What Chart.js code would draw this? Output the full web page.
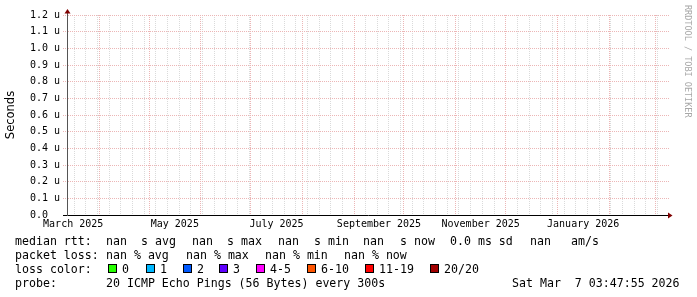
<!DOCTYPE html>
<html>
<head>
<meta charset="utf-8">
<script src="https://cdn.jsdelivr.net/npm/chart.js@4.4.1/dist/chart.umd.min.js"></script>
<style>
  body { margin: 0; background: #fff; }
  #wrap { position: relative; width: 697px; height: 297px; overflow: hidden; background: #fff; }
  #c { position: absolute; left: 0; top: 0; }
  .t { position: absolute; font-family: 'DejaVu Sans Mono', monospace; font-size: 11.6px; line-height: 14px; white-space: pre; color: #000; }
  .box { position: absolute; width: 9px; height: 9px; box-sizing: border-box; border: 1px solid #000; }
  #mark { position: absolute; left: 683px; top: 5px; font-family: 'DejaVu Sans Mono', monospace; font-size: 8.5px; line-height: 9px; color: #a8a8a8; writing-mode: vertical-rl; white-space: pre; }
</style>
</head>
<body>
<div id="wrap">
  <canvas id="c" width="697" height="297"></canvas>
  <div id="mark">RRDTOOL / TOBI OETIKER</div>
  <div id="legend"></div>
</div>
<script>
// values (days counted from 2025-01-01)
const yTickValues = [0, 0.1, 0.2, 0.3, 0.4, 0.5, 0.6, 0.7, 0.8, 0.9, 1.0, 1.1, 1.2];
const yTickLabels = ['0.0  ', '0.1 u', '0.2 u', '0.3 u', '0.4 u', '0.5 u', '0.6 u',
                     '0.7 u', '0.8 u', '0.9 u', '1.0 u', '1.1 u', '1.2 u'];
const monthLabels = ['March 2025', 'May 2025', 'July 2025', 'September 2025', 'November 2025', 'January 2026'];
const labelMonths = ['2025-03-01', '2025-05-01', '2025-07-01', '2025-09-01', '2025-11-01', '2026-01-01'];
const monthStarts = ['2025-04-01', '2025-05-01', '2025-06-01', '2025-07-01', '2025-08-01', '2025-09-01',
                     '2025-10-01', '2025-11-01', '2025-12-01', '2026-01-01', '2026-02-01', '2026-03-01'];
const firstMonday = '2025-03-17';
const viewStart = 70.8;   // ~ 12 Mar 2025
const viewEnd = 432.0;    // ~ 9 Mar 2026

// no samples in the period: every rtt / loss value is nan
const medianRtt = [];
const packetLoss = [];

const lossLabels = ['0', '1', '2', '3', '4-5', '6-10', '11-19', '20/20'];
const lossColors = ['#26ff00', '#00b8ff', '#0059ff', '#5e00ff', '#ff00ff', '#ff5500', '#ff0000', '#a10000'];

const rttLine = ['median rtt:', 'nan', 's avg', 'nan', 's max', 'nan', 's min', 'nan', 's now', '0.0 ms sd', 'nan', 'am/s'];
const lossLine = ['packet loss:', 'nan % avg', 'nan % max', 'nan % min', 'nan % now'];
const probeLine = ['probe:', '20 ICMP Echo Pings (56 Bytes) every 300s', 'Sat Mar  7 03:47:55 2026'];

// layout of the legend rows
const rttX = [16, 107, 142, 193, 228, 279, 315, 364, 401, 451, 531, 572];
const lossX = [16, 107, 187, 266, 345];
const probeX = [16, 107, 513];
const boxX = [108, 146, 183, 219, 256, 307, 365, 430];
const rowTop = [234, 248, 262, 276];

function day(s) {
  const [y, m, d] = s.split('-').map(Number);
  return (Date.UTC(y, m - 1, d) - Date.UTC(2025, 0, 1)) / 864e5;
}
function nextMonth(s) {
  const [y, m] = s.split('-').map(Number);
  return (Date.UTC(y, m, 1) - Date.UTC(2025, 0, 1)) / 864e5;
}

// x ticks: weekly minor lines, monthly major lines, month labels in the middle of a month
const xTicks = [];
const monthDays = monthStarts.map(day);
for (let d = day(firstMonday); d < viewEnd; d += 7) {
  if (!monthDays.includes(d)) xTicks.push({ value: d, kind: 'week', label: '' });
}
monthDays.forEach(d => xTicks.push({ value: d, kind: 'month', label: '' }));
labelMonths.forEach((m, i) => xTicks.push({ value: (day(m) + nextMonth(m)) / 2, kind: 'label', label: monthLabels[i] }));
xTicks.sort((a, b) => a.value - b.value);

const GRID = '#dadada';
const MGRID = '#ecb6b6';

const axisArrows = {
  id: 'axisArrows',
  afterDraw(chart) {
    const { ctx, chartArea: a } = chart;
    ctx.save();
    ctx.strokeStyle = '#555';
    ctx.lineWidth = 1;
    ctx.beginPath();
    ctx.moveTo(a.left + 0.5, a.top);
    ctx.lineTo(a.left + 0.5, a.top - 3);
    ctx.stroke();
    ctx.fillStyle = '#800000';
    ctx.beginPath();
    ctx.moveTo(a.left + 0.5, a.top - 6);
    ctx.lineTo(a.left + 3.5, a.top - 1.5);
    ctx.lineTo(a.left - 2.5, a.top - 1.5);
    ctx.closePath();
    ctx.fill();
    ctx.beginPath();
    ctx.moveTo(a.right + 3.5, a.bottom + 0.5);
    ctx.lineTo(a.right - 1, a.bottom - 2.5);
    ctx.lineTo(a.right - 1, a.bottom + 3.5);
    ctx.closePath();
    ctx.fill();
    ctx.restore();
  }
};

Chart.defaults.font.family = "'DejaVu Sans Mono', monospace";
Chart.defaults.font.size = 10;
Chart.defaults.color = '#000';

new Chart(document.getElementById('c'), {
  type: 'line',
  data: {
    datasets: [
      { label: 'median rtt', data: medianRtt, borderColor: '#000', pointRadius: 0 },
      { label: 'packet loss', data: packetLoss, borderColor: lossColors[0], pointRadius: 0 }
    ]
  },
  options: {
    responsive: false,
    devicePixelRatio: 1,
    animation: false,
    events: [],
    layout: { padding: { left: 0, top: 15, right: 28, bottom: 65 } },
    plugins: { legend: { display: false }, tooltip: { enabled: false } },
    scales: {
      x: {
        type: 'linear',
        min: viewStart,
        max: viewEnd,
        afterBuildTicks: s => { s.ticks = xTicks.map(t => ({ value: t.value })); },
        afterFit: s => { s.height = 17; },
        ticks: {
          autoSkip: false, maxRotation: 0, minRotation: 0, padding: 3,
          font: { size: 10 },
          callback: (v, i) => xTicks[i].label
        },
        grid: {
          drawTicks: false,
          lineWidth: 1,
          color: c => {
            const t = xTicks[c.index];
            if (!t || t.kind === 'label') return 'rgba(0,0,0,0)';
            return t.kind === 'month' ? MGRID : GRID;
          }
        },
        border: { display: true, color: '#000', width: 1, dash: [1, 1] }
      },
      y: {
        type: 'linear',
        min: 0,
        max: 1.2,
        afterBuildTicks: s => { s.ticks = yTickValues.map(v => ({ value: v })); },
        afterFit: s => { s.width = 67; },
        ticks: {
          padding: 3,
          font: { size: 10 },
          callback: (v, i) => yTickLabels[i]
        },
        grid: {
          drawTicks: true,
          tickLength: 4,
          lineWidth: 1,
          color: c => (c.index === 0 ? 'rgba(0,0,0,0)' : MGRID),
          tickColor: c => (c.index === 0 ? '#000' : MGRID),
          tickBorderDash: c => (c.index === 0 ? [] : [1, 1])
        },
        border: { display: true, color: '#555', width: 1, dash: [1, 1] },
        title: {
          display: true,
          text: 'Seconds',
          font: { family: "'DejaVu Sans', sans-serif", size: 11.5 },
          padding: { top: 4, bottom: 0 }
        }
      }
    }
  },
  plugins: [axisArrows]
});

// legend rows under the graph
const legend = document.getElementById('legend');
function addText(x, y, text) {
  const el = document.createElement('div');
  el.className = 't';
  el.style.left = (x - 1) + 'px';
  el.style.top = y + 'px';
  el.textContent = text;
  legend.appendChild(el);
}
rttLine.forEach((s, i) => addText(rttX[i], rowTop[0], s));
lossLine.forEach((s, i) => addText(lossX[i], rowTop[1], s));
addText(16, rowTop[2], 'loss color:');
lossLabels.forEach((s, i) => {
  const b = document.createElement('div');
  b.className = 'box';
  b.style.left = boxX[i] + 'px';
  b.style.top = (rowTop[2] + 2) + 'px';
  b.style.background = lossColors[i];
  legend.appendChild(b);
  addText(boxX[i] + 15, rowTop[2], s);
});
probeLine.forEach((s, i) => addText(probeX[i], rowTop[3], s));
</script>
</body>
</html>
